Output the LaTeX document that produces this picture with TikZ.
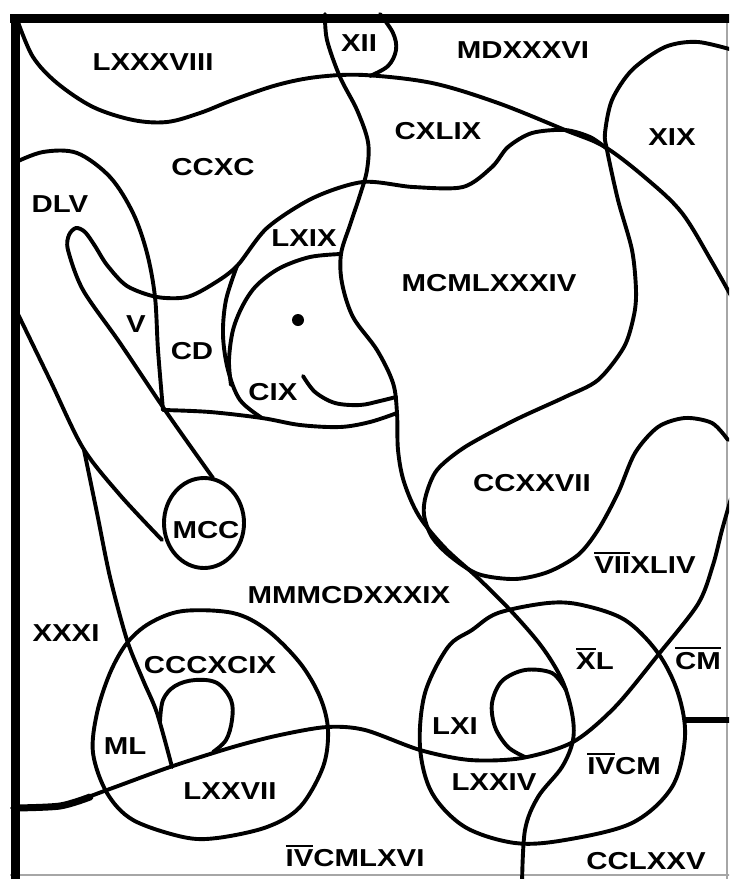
\documentclass[tikz,border=0pt]{standalone}
\usepackage{fontspec}
\newfontfamily\labfont{Liberation Sans}[FakeStretch=1.2]
\newcommand\myovl[1]{\setbox0\hbox{#1}\rlap{\raisebox{\dimexpr\ht0+3pt\relax}[0pt][0pt]{\rule{\wd0}{2pt}}}\box0}
\tikzset{
  curve/.style={line width=3.9pt, line cap=round, line join=round},
  lab/.style={inner sep=0pt, font=\labfont\bfseries\fontsize{24.5}{28}\selectfont},
}
\begin{document}
\begin{tikzpicture}[x=1pt,y=-1pt]
\useasboundingbox (0,0) rectangle (729,879);
\fill[white] (0,0) rectangle (729,879);
\begin{scope}
\clip (0,0) rectangle (729,879);
% frame
\draw[gray!70, line width=2pt] (727,14) -- (727,885);
\draw[gray!70, line width=2pt] (10,875) -- (735,875);
\draw[line width=9pt] (10,18) -- (735,18);
\draw[line width=9pt] (15,14) -- (15,885);
% LXXXVIII + big line
\draw[curve] plot[smooth, tension=0.55] coordinates {(18,22) (33,57) (57,83) (93,107) (133,120) (167,122) (200,113) (233,100) (277,85) (317,77) (364,75) (432,83) (498,103) (565,130) (605,147) (648,180) (682,213) (712,262) (740,312)};
% long line
\draw[curve] plot[smooth, tension=0.55] coordinates {(325,14) (327,40) (340,77) (357,110) (368,142) (367,170) (360,195) (350,225) (341,254) (342,283) (353,317) (377,350) (393,383) (397,413) (398,450) (404,482) (419,516) (445,548) (478,578) (512,612) (542,647) (562,680) (572,713) (573,740) (562,767) (538,797) (525,830) (522,885)};
% XII right side
\draw[curve] plot[smooth, tension=0.6] coordinates {(380,14) (393,33) (396,50) (388,66) (370,76)};
% tongue + CCXC lower curve + CXLIX
\draw[curve] plot[smooth, tension=0.5] coordinates {(213,478) (167,413) (120,343) (83,290) (68,250) (69,235) (76,228) (85,232) (95,246) (107,265) (127,286) (157,297) (187,297) (213,284) (237,266) (267,228) (313,198) (363,182) (413,187) (463,187) (492,167) (508,147) (532,133) (565,130) (590,137) (606,148)};
% DLV outer
\draw[curve] plot[smooth, tension=0.55] coordinates {(14,163) (43,152) (77,153) (110,177) (133,213) (147,253) (155,297) (158,350) (163,410)};
% horizontal to circle bottom
\draw[curve] plot[smooth, tension=0.55] coordinates {(163,410) (210,412) (262,418) (300,425) (340,427) (370,422) (397,413)};
% big circle left side
\draw[curve] plot[smooth, tension=0.55] coordinates {(237,266) (226,300) (223,335) (228,370) (240,400) (262,418)};
% inner arc
\draw[curve] plot[smooth, tension=0.55] coordinates {(341,254) (310,257) (280,268) (257,285) (243,305) (233,330) (229,360) (231,385)};
% CIX hook
\draw[curve] plot[smooth, tension=0.55] coordinates {(303,376) (315,392) (335,403) (360,405) (380,401) (396,397)};
% XIX curve around CCXXVII
\draw[curve] plot[smooth, tension=0.5] coordinates {(740,52) (698,42) (665,47) (632,70) (612,100) (605,133) (607,150) (618,200) (632,250) (636,290) (634,315) (624,347) (598,380) (565,397) (515,420) (465,447) (437,470) (426,495) (424,515) (432,537) (450,556) (478,574) (515,579) (548,572) (578,555) (598,530) (618,493) (635,453) (658,427) (685,418) (712,423) (728,440)};
% DLV lower band line
\draw[curve] plot[smooth, tension=0.5] coordinates {(15,308) (50,380) (83,448) (120,495) (162,540)};
% branch down
\draw[curve] plot[smooth, tension=0.5] coordinates {(84,450) (97,513) (110,577) (127,640) (143,680) (157,713) (172,767)};
% MCC circle
\draw[curve] (204,523) ellipse [x radius=40, y radius=45];
% left big circle
\draw[curve] plot[smooth cycle, tension=0.55] coordinates {(183,611) (233,613) (267,630) (300,663) (320,697) (328,730) (323,767) (300,807) (267,827) (217,838) (183,837) (133,820) (107,793) (93,753) (97,713) (110,673) (127,643) (150,623)};
% small left loop
\draw[curve] plot[smooth, tension=0.6] coordinates {(160,722) (163,700) (175,686) (195,680) (217,683) (231,700) (232,720) (226,740) (213,752)};
% wavy line
\draw[curve] plot[smooth, tension=0.5] coordinates {(12,808) (60,806) (107,790) (170,767) (233,747) (280,735) (327,727) (365,730) (420,750) (470,760) (522,758) (573,742) (615,707) (658,655) (698,604) (713,565) (722,530) (732,495)};
\draw[line width=7pt, line cap=round] plot[smooth, tension=0.5] coordinates {(15,808) (60,806) (90,797)};
% LXI loop
\draw[curve] plot[smooth, tension=0.55] coordinates {(525,757) (508,747) (495,727) (492,703) (502,681) (525,670) (552,673) (566,690)};
% right big circle
\draw[curve] plot[smooth cycle, tension=0.55] coordinates {(548,603) (582,605) (625,620) (658,653) (678,693) (685,737) (672,787) (632,823) (565,840) (515,843) (465,827) (432,793) (420,747) (425,693) (448,647) (472,630) (498,613)};
% CM stub
\draw[line width=6pt] (684,720) -- (740,720);
\end{scope}
% dot
\fill (298,320) ellipse [x radius=6, y radius=6];
% labels
\node[lab] (l88) at (153,62) {LXXXVIII};
\node[lab] (l12) at (359,43) {XII};
\node[lab] (l1536) at (523,50) {MDXXXVI};
\node[lab] (l149) at (438,131) {CXLIX};
\node[lab] (l19) at (672,137) {XIX};
\node[lab] (l290) at (213,167) {CCXC};
\node[lab] (l555) at (60,204) {DLV};
\node[lab] (l69) at (304,238) {LXIX};
\node[lab] (l1984) at (489,283) {MCMLXXXIV};
\node[lab] (l5) at (136,324) {V};
\node[lab] (l400) at (192,351) {CD};
\node[lab] (l109) at (273,392) {CIX};
\node[lab] (l227) at (532,483) {CCXXVII};
\node[lab] (l1200) at (206,530) {MCC};
\node[lab] (l7044) at (645,565) {\myovl{VII}XLIV};
\node[lab] (l3439) at (349,595) {MMMCDXXXIX};
\node[lab] (l31) at (66,633) {XXXI};
\node[lab] (l399) at (210,665) {CCCXCIX};
\node[lab] (l10050) at (595,661) {\myovl{X}L};
\node[lab] (l900k) at (698,661) {\myovl{CM}};
\node[lab] (l1050) at (125,746) {ML};
\node[lab] (l61) at (455,726) {LXI};
\node[lab] (l74) at (494,782) {LXXIV};
\node[lab] (l4900) at (624,766) {\myovl{IV}CM};
\node[lab] (l77) at (230,791) {LXXVII};
\node[lab] (l4966) at (355,858) {\myovl{IV}CMLXVI};
\node[lab] (l275) at (646,861) {CCLXXV};
\end{tikzpicture}
\end{document}
